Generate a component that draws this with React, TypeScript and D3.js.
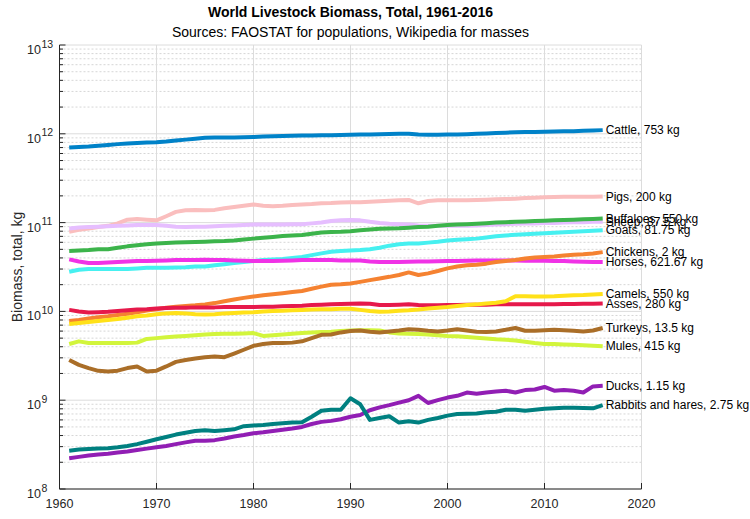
import React from "react";
import * as d3 from "d3";

const years = d3.range(1961, 2017);

// values, in kg
const cattle = [7.0, 7.1, 7.2, 7.35, 7.5, 7.65, 7.8, 7.9, 8.0, 8.05, 8.2, 8.4, 8.6, 8.8, 9.0, 9.1, 9.1, 9.1, 9.15, 9.2, 9.3, 9.4, 9.45, 9.5, 9.55, 9.55, 9.6, 9.65, 9.7, 9.75, 9.8, 9.85, 9.9, 9.95, 10.0, 10.0, 9.8, 9.75, 9.75, 9.8, 9.85, 9.9, 10.0, 10.1, 10.2, 10.3, 10.4, 10.45, 10.5, 10.55, 10.6, 10.65, 10.7, 10.8, 10.9, 11.0].map((v) => v * 1e11);
const pigs = [7.9, 8.3, 8.6, 8.9, 9.2, 9.8, 10.8, 11.0, 10.8, 10.6, 11.8, 13.2, 13.8, 13.9, 13.8, 13.9, 14.5, 15.0, 15.5, 16.0, 15.5, 15.3, 15.5, 15.8, 16.0, 16.2, 16.5, 16.6, 16.8, 17.0, 17.0, 17.2, 17.4, 17.6, 17.8, 18.0, 16.5, 17.5, 17.8, 17.9, 17.8, 17.9, 18.0, 18.1, 18.3, 18.4, 18.6, 18.9, 19.1, 19.3, 19.4, 19.5, 19.6, 19.5, 19.6, 19.7].map((v) => v * 1e10);
const sheep = [8.6, 8.8, 8.9, 9.0, 9.1, 9.2, 9.3, 9.4, 9.4, 9.4, 9.2, 9.0, 8.9, 9.0, 9.0, 9.1, 9.2, 9.3, 9.4, 9.5, 9.5, 9.5, 9.5, 9.6, 9.6, 9.8, 10.0, 10.4, 10.6, 10.7, 10.6, 10.2, 9.9, 9.7, 9.6, 9.5, 9.3, 9.2, 9.2, 9.2, 9.2, 9.2, 9.3, 9.4, 9.5, 9.6, 9.7, 9.8, 9.8, 9.9, 9.9, 10.0, 10.1, 10.1, 10.2, 10.2].map((v) => v * 1e10);
const buffaloes = [4.8, 4.85, 4.9, 5.0, 5.0, 5.2, 5.4, 5.55, 5.7, 5.8, 5.9, 5.95, 6.0, 6.05, 6.1, 6.15, 6.2, 6.3, 6.45, 6.6, 6.75, 6.9, 7.05, 7.15, 7.25, 7.5, 7.75, 7.85, 7.9, 8.0, 8.2, 8.35, 8.5, 8.6, 8.65, 8.75, 8.9, 9.0, 9.2, 9.4, 9.5, 9.6, 9.7, 9.85, 10.0, 10.1, 10.2, 10.3, 10.4, 10.5, 10.6, 10.7, 10.8, 10.9, 11.0, 11.1].map((v) => v * 1e10);
const goats = [2.8, 2.95, 3.0, 3.0, 3.0, 3.0, 3.0, 3.05, 3.1, 3.1, 3.1, 3.12, 3.15, 3.2, 3.2, 3.3, 3.4, 3.5, 3.6, 3.7, 3.8, 3.85, 3.9, 4.0, 4.1, 4.3, 4.5, 4.7, 4.8, 4.85, 4.9, 5.0, 5.2, 5.5, 5.7, 5.8, 5.8, 5.95, 6.1, 6.3, 6.4, 6.5, 6.6, 6.8, 7.0, 7.15, 7.3, 7.4, 7.5, 7.6, 7.7, 7.8, 7.9, 8.0, 8.1, 8.2].map((v) => v * 1e10);
const horses = [3.85, 3.65, 3.5, 3.5, 3.55, 3.6, 3.65, 3.7, 3.7, 3.72, 3.75, 3.78, 3.8, 3.8, 3.82, 3.8, 3.78, 3.75, 3.72, 3.7, 3.7, 3.7, 3.72, 3.75, 3.78, 3.8, 3.8, 3.78, 3.75, 3.75, 3.75, 3.65, 3.6, 3.6, 3.6, 3.62, 3.65, 3.65, 3.68, 3.7, 3.7, 3.72, 3.75, 3.75, 3.75, 3.75, 3.75, 3.72, 3.72, 3.72, 3.7, 3.7, 3.65, 3.62, 3.6, 3.6].map((v) => v * 1e10);
const chickens = [0.78, 0.8, 0.83, 0.86, 0.88, 0.91, 0.94, 0.98, 1.02, 1.06, 1.1, 1.13, 1.15, 1.17, 1.2, 1.24, 1.3, 1.36, 1.42, 1.47, 1.52, 1.56, 1.6, 1.65, 1.7, 1.8, 1.9, 2.0, 2.02, 2.06, 2.15, 2.25, 2.35, 2.45, 2.57, 2.75, 2.57, 2.68, 2.85, 3.05, 3.2, 3.3, 3.35, 3.45, 3.6, 3.7, 3.8, 3.95, 4.05, 4.1, 4.15, 4.25, 4.35, 4.4, 4.5, 4.65].map((v) => v * 1e10);
const asses = [1.04, 1.0, 0.97, 0.98, 0.99, 1.01, 1.03, 1.05, 1.06, 1.08, 1.09, 1.1, 1.1, 1.11, 1.11, 1.11, 1.12, 1.12, 1.12, 1.12, 1.13, 1.13, 1.14, 1.15, 1.16, 1.18, 1.19, 1.2, 1.21, 1.22, 1.23, 1.22, 1.18, 1.18, 1.19, 1.2, 1.18, 1.17, 1.17, 1.18, 1.18, 1.19, 1.19, 1.19, 1.2, 1.2, 1.2, 1.2, 1.2, 1.2, 1.2, 1.21, 1.21, 1.22, 1.22, 1.23].map((v) => v * 1e10);
const camels = [0.72, 0.74, 0.76, 0.78, 0.8, 0.82, 0.85, 0.88, 0.9, 0.93, 0.95, 0.96, 0.95, 0.93, 0.92, 0.93, 0.95, 0.96, 0.97, 0.98, 1.0, 1.01, 1.02, 1.03, 1.04, 1.05, 1.06, 1.06, 1.07, 1.07, 1.04, 1.01, 0.99, 1.0, 1.02, 1.03, 1.05, 1.08, 1.1, 1.12, 1.15, 1.18, 1.2, 1.23, 1.25, 1.3, 1.48, 1.48, 1.47, 1.47, 1.48, 1.5, 1.52, 1.53, 1.55, 1.57].map((v) => v * 1e10);
const mules = [4.3, 4.6, 4.4, 4.4, 4.4, 4.4, 4.4, 4.45, 4.9, 5.0, 5.1, 5.2, 5.3, 5.4, 5.5, 5.55, 5.6, 5.6, 5.65, 5.7, 5.3, 5.4, 5.5, 5.6, 5.7, 5.8, 5.85, 5.9, 6.0, 6.1, 6.15, 6.15, 6.1, 5.8, 5.65, 5.6, 5.55, 5.5, 5.4, 5.3, 5.25, 5.15, 5.05, 4.95, 4.85, 4.8, 4.7, 4.55, 4.4, 4.3, 4.3, 4.25, 4.2, 4.15, 4.1, 4.05].map((v) => v * 1e9);
const turkeys = [2.84, 2.5, 2.3, 2.14, 2.1, 2.15, 2.3, 2.4, 2.1, 2.15, 2.4, 2.7, 2.84, 2.95, 3.05, 3.1, 3.05, 3.35, 3.7, 4.1, 4.3, 4.4, 4.4, 4.45, 4.6, 5.0, 5.45, 5.5, 5.8, 6.0, 6.1, 5.9, 5.8, 5.95, 6.1, 6.3, 6.2, 6.05, 5.95, 6.1, 6.3, 6.1, 5.9, 5.85, 5.95, 6.2, 6.5, 6.05, 6.05, 6.15, 6.2, 6.15, 6.05, 5.95, 6.1, 6.5].map((v) => v * 1e9);
const ducks = [2.22, 2.3, 2.38, 2.45, 2.5, 2.57, 2.65, 2.75, 2.85, 2.95, 3.05, 3.2, 3.35, 3.5, 3.5, 3.55, 3.7, 3.9, 4.05, 4.25, 4.35, 4.5, 4.65, 4.8, 5.0, 5.4, 5.7, 5.85, 6.1, 6.5, 6.8, 7.7, 8.3, 8.8, 9.4, 10.0, 11.2, 9.3, 10.0, 10.7, 11.2, 12.2, 11.8, 12.2, 12.5, 12.8, 12.2, 13.0, 13.2, 14.1, 12.8, 13.0, 12.8, 12.2, 14.3, 14.5].map((v) => v * 1e8);
const rabbits = [2.7, 2.78, 2.82, 2.85, 2.88, 2.95, 3.05, 3.2, 3.4, 3.63, 3.85, 4.1, 4.3, 4.5, 4.6, 4.5, 4.6, 4.7, 5.1, 5.2, 5.25, 5.4, 5.5, 5.6, 5.65, 6.5, 7.6, 7.8, 7.8, 10.5, 9.0, 6.0, 6.3, 6.6, 5.6, 5.8, 5.6, 6.0, 6.3, 6.7, 7.0, 7.05, 7.1, 7.3, 7.4, 7.8, 7.8, 7.6, 7.8, 8.0, 8.1, 8.2, 8.2, 8.15, 8.1, 8.8].map((v) => v * 1e8);

const seriesNames = ["Cattle, 753 kg", "Pigs, 200 kg", "Sheep, 87.5 kg", "Buffaloes, 550 kg", "Goats, 81.75 kg", "Horses, 621.67 kg", "Chickens, 2 kg", "Asses, 280 kg", "Camels, 550 kg", "Mules, 415 kg", "Turkeys, 13.5 kg", "Ducks, 1.15 kg", "Rabbits and hares, 2.75 kg"];
const seriesValues = [cattle, pigs, sheep, buffaloes, goats, horses, chickens, asses, camels, mules, turkeys, ducks, rabbits];
const seriesColors = ["#0082c8", "#fabebe", "#e6beff", "#3cb44b", "#46f0f0", "#f032e6", "#f58231", "#e6194b", "#ffe119", "#d2f53c", "#aa6e28", "#911eb4", "#008080"];

const xTicks = [1960, 1970, 1980, 1990, 2000, 2010, 2020];
const yExponents = [8, 9, 10, 11, 12, 13];

export default function App() {
  const width = 750;
  const height = 519;
  const left = 59.5;
  const right = 641.5;
  const top = 45;
  const bottom = 489;

  const x = d3.scaleLinear().domain([1960, 2020]).range([left, right]);
  const y = d3.scaleLog().domain([1e8, 1e13]).range([bottom, top]);

  const line = d3
    .line<number>()
    .x((_, i) => x(years[i]))
    .y((d) => y(d));

  const minor: number[] = [];
  yExponents.slice(0, -1).forEach((e) => {
    for (let m = 2; m <= 9; m++) minor.push(m * Math.pow(10, e));
  });

  const font = "'Liberation Sans', Arial, Helvetica, sans-serif";

  return (
    <svg
      width={width}
      height={height}
      style={{ position: "absolute", left: 0, top: 0, background: "#fff" }}
      fontFamily={font}
    >
      {/* grid */}
      {minor.map((v) => (
        <line key={"m" + v} x1={left} x2={right} y1={y(v)} y2={y(v)} stroke="#d6d6d6" strokeWidth={1} strokeDasharray="2,2" />
      ))}
      {yExponents.map((e) => (
        <line key={"g" + e} x1={left} x2={right} y1={y(Math.pow(10, e))} y2={y(Math.pow(10, e))} stroke="#dcdcdc" strokeWidth={1} />
      ))}
      {xTicks.map((t) => (
        <line key={"v" + t} x1={x(t)} x2={x(t)} y1={top} y2={bottom} stroke="#dcdcdc" strokeWidth={1} />
      ))}

      {/* series */}
      {seriesValues.map((vals, i) => (
        <path
          key={seriesNames[i]}
          d={line(vals) ?? ""}
          fill="none"
          stroke={seriesColors[i]}
          strokeWidth={4}
          strokeLinejoin="round"
        />
      ))}

      {/* end labels */}
      {seriesValues.map((vals, i) => (
        <text
          key={"l" + i}
          x={x(years[years.length - 1]) + 3}
          y={y(vals[vals.length - 1])}
          dy="0.35em"
          fontSize={12}
          fill="#000"
        >
          {seriesNames[i]}
        </text>
      ))}

      {/* axes */}
      <line x1={left} x2={left} y1={top} y2={bottom} stroke="#262626" strokeWidth={1} />
      <line x1={left} x2={right} y1={bottom} y2={bottom} stroke="#262626" strokeWidth={1} />
      {minor.map((v) => (
        <line key={"mt" + v} x1={left} x2={left + 3.5} y1={y(v)} y2={y(v)} stroke="#262626" strokeWidth={1} />
      ))}
      {yExponents.map((e) => (
        <line key={"yt" + e} x1={left} x2={left + 6} y1={y(Math.pow(10, e))} y2={y(Math.pow(10, e))} stroke="#262626" strokeWidth={1} />
      ))}
      {xTicks.map((t) => (
        <line key={"xt" + t} x1={x(t)} x2={x(t)} y1={bottom} y2={bottom - 6} stroke="#262626" strokeWidth={1} />
      ))}

      {/* tick labels */}
      {xTicks.map((t) => (
        <text key={"xl" + t} x={x(t)} y={bottom + 19} textAnchor="middle" fontSize={12.5} fill="#262626">
          {t}
        </text>
      ))}
      {yExponents.map((e) => (
        <g key={"yl" + e}>
          <text x={41} y={y(Math.pow(10, e)) + 9} textAnchor="end" fontSize={12.5} fill="#262626">
            10
          </text>
          <text x={41.5} y={y(Math.pow(10, e)) + 2.5} fontSize={10.5} fill="#262626">
            {e}
          </text>
        </g>
      ))}

      {/* axis label */}
      <text
        transform={`translate(22, ${(top + bottom) / 2}) rotate(-90)`}
        textAnchor="middle"
        fontSize={14}
        fill="#262626"
      >
        Biomass, total, kg
      </text>

      {/* titles */}
      <text x={(left + right) / 2} y={17} textAnchor="middle" fontSize={14} fontWeight="bold" fill="#000">
        World Livestock Biomass, Total, 1961-2016
      </text>
      <text x={(left + right) / 2} y={37} textAnchor="middle" fontSize={14} fill="#000">
        Sources: FAOSTAT for populations, Wikipedia for masses
      </text>
    </svg>
  );
}
